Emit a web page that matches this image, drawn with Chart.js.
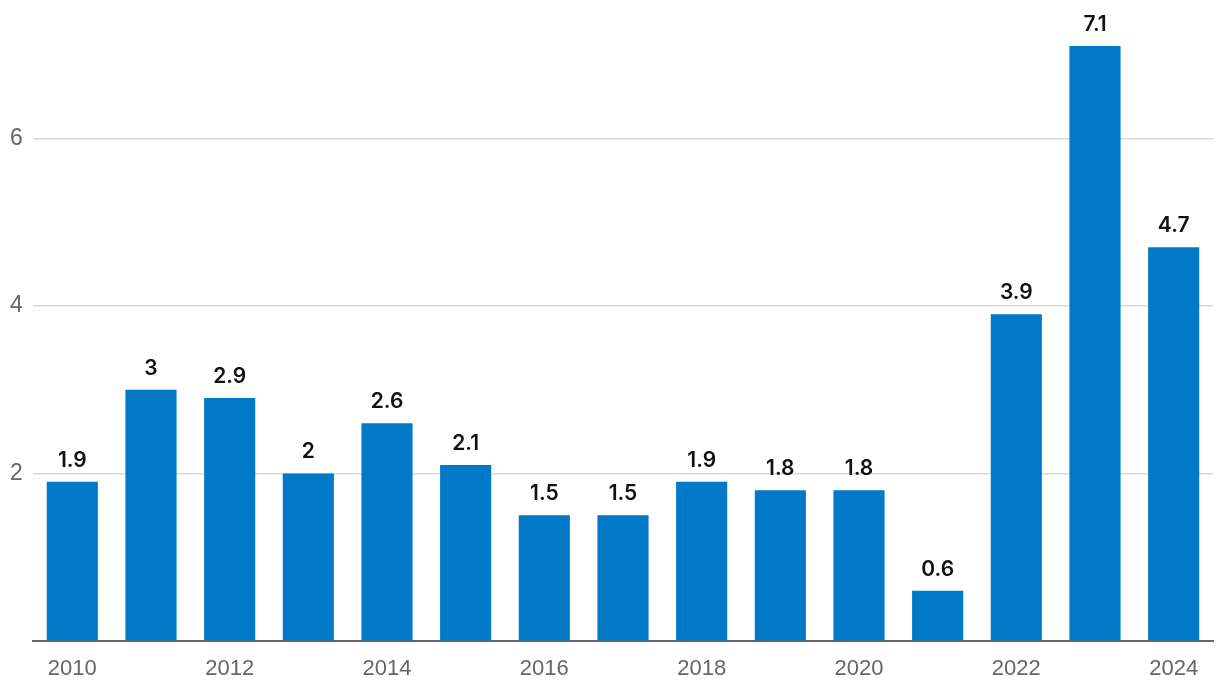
<!DOCTYPE html>
<html>
<head>
<meta charset="utf-8">
<script src="https://cdn.jsdelivr.net/npm/chart.js@4/dist/chart.umd.min.js"></script>
<style>
  html, body { margin: 0; padding: 0; background: #fff; }
  #wrap { width: 1220px; height: 694px; }
</style>
</head>
<body>
<div id="wrap"><canvas id="myChart" width="1220" height="694"></canvas></div>
<script>
const years = ["2010", "2011", "2012", "2013", "2014", "2015", "2016", "2017",
  "2018", "2019", "2020", "2021", "2022", "2023", "2024"];
const values = [1.9, 3, 2.9, 2, 2.6, 2.1, 1.5, 1.5, 1.9, 1.8, 1.8, 0.6, 3.9, 7.1, 4.7];

// draws the value above each bar
const barLabels = {
  id: "barLabels",
  afterDatasetsDraw(chart) {
    const ctx = chart.ctx;
    const meta = chart.getDatasetMeta(0);
    ctx.save();
    ctx.font = "600 21px Inter, sans-serif";
    ctx.fillStyle = "#111";
    ctx.textAlign = "center";
    ctx.textBaseline = "alphabetic";
    meta.data.forEach((bar, i) => {
      ctx.fillText(String(values[i]), bar.x, bar.y - 15);
    });
    ctx.restore();
  },
};

const config = {
  type: "bar",
  data: {
    labels: years,
    datasets: [
      {
        data: values,
        backgroundColor: "#0079c8",
        categoryPercentage: 1,
        barPercentage: 0.65,
      },
    ],
  },
  options: {
    responsive: false,
    animation: false,
    layout: { padding: { left: 10, right: 7, top: 3, bottom: 13 } },
    plugins: {
      legend: { display: false },
      tooltip: { enabled: false },
    },
    scales: {
      x: {
        afterFit: (scale) => { scale.height = 40; },
        grid: { display: false, drawTicks: false },
        border: { color: "#666", width: 2 },
        ticks: {
          autoSkip: false,
          maxRotation: 0,
          padding: 15,
          color: "#666",
          font: { family: "'Liberation Sans', Arial, sans-serif", size: 22 },
          callback: (v, i) => (i % 2 === 0 ? years[i] : ""),
        },
      },
      y: {
        min: 0,
        max: 7.45,
        afterFit: (scale) => { scale.width = 23; },
        border: { display: false },
        grid: { color: "#d9d9d9", lineWidth: 1.5, drawTicks: false },
        ticks: {
          stepSize: 2,
          includeBounds: false,
          crossAlign: "far",
          color: "#666",
          font: { family: "'Liberation Sans', Arial, sans-serif", size: 23 },
          callback: (v) => (v === 0 ? "" : v),
        },
      },
    },
  },
  plugins: [barLabels],
};

new Chart(document.getElementById("myChart"), config);
</script>
</body>
</html>
